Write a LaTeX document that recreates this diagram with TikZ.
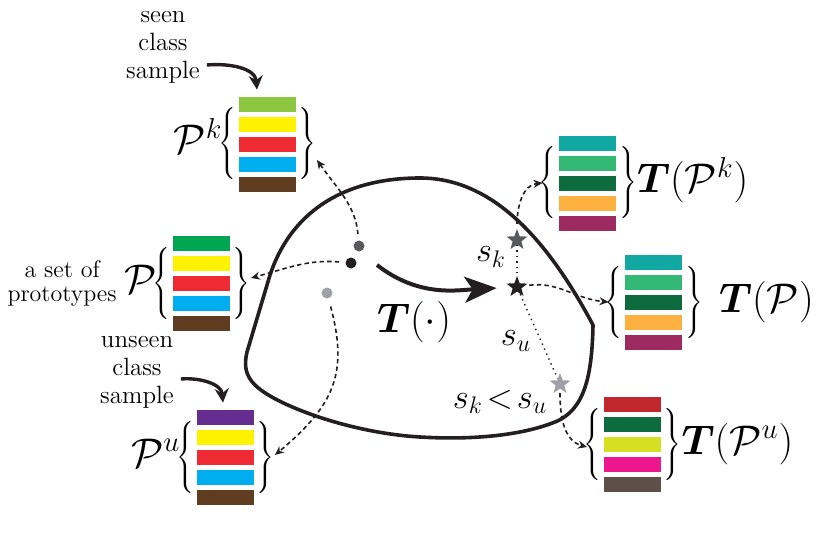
\documentclass[tikz,border=0pt]{standalone}
\usepackage{amsmath}
\usepackage{bm}
\usetikzlibrary{positioning,shapes.geometric,arrows.meta}

\definecolor{ink}{HTML}{231F20}
\definecolor{gdark}{HTML}{58595B}
\definecolor{glight}{HTML}{A0A1A4}
\definecolor{pklime}{HTML}{8DC63F}
\definecolor{pgreen}{HTML}{00A651}
\definecolor{ppurple}{HTML}{662D91}
\definecolor{pyellow}{HTML}{FFF200}
\definecolor{pred}{HTML}{EE2A32}
\definecolor{pcyan}{HTML}{00AEEF}
\definecolor{pbrown}{HTML}{603D20}
\definecolor{tteal}{HTML}{10A8A0}
\definecolor{tgreen}{HTML}{33B876}
\definecolor{tdark}{HTML}{0E6B3E}
\definecolor{torange}{HTML}{FBB040}
\definecolor{tplum}{HTML}{9E2A62}
\definecolor{ured}{HTML}{C1272D}
\definecolor{uolive}{HTML}{D7DF23}
\definecolor{upink}{HTML}{EC178C}
\definecolor{ugray}{HTML}{5E5048}

\begin{document}
\begin{tikzpicture}[x=0.5pt, y=-0.5pt, line join=round,
        bar/.style={rectangle, inner sep=0pt, minimum width=29pt, minimum height=8pt,
                draw=white, line width=0.4pt},
        brc/.style={inner sep=0pt, font=\huge},
        lbl/.style={align=center, font=\fontsize{12.5}{14}\selectfont},
        emb/.style={circle, inner sep=0pt, minimum size=5.5pt},
        tstar/.style={star, star points=5, star point ratio=2.4, inner sep=0pt, minimum size=11pt},
        link/.style={ink, line width=0.8pt, dash pattern=on 2.2pt off 1.6pt,
                -{Stealth[length=4.5pt, width=4pt]}},
        sim/.style={ink, line width=0.7pt, dotted},
        callout/.style={ink, line width=1.7pt, -{Stealth[length=7pt, width=7pt]}},
        maparr/.style={ink, line width=2pt, -{Stealth[length=16pt, width=13pt, inset=4pt]}}]
        \def\bars(#1,#2,#3)#4{\foreach \c [count=\i] in {#4}
                \node[bar, fill=\c] (#1\i) at (#2, #3+20*\i-20) {};}
        \def\lbrc{\kern-2pt\raisebox{2.5pt}{\normalsize\nulldelimiterspace=0pt$\left\{\vcenter{\hbox{\rule{0pt}{38pt}}}\right.$}\kern-0.5pt}
        \def\rbrc{\raisebox{2.5pt}{\normalsize\nulldelimiterspace=0pt$\left.\vcenter{\hbox{\rule{0pt}{38pt}}}\right\}$}}

        \useasboundingbox (0,0) rectangle (829,534);

        % feature space
        \draw[ink, line width=1.8pt] (247,352) -- (270,275)
              .. controls (290,215) and (340,178) .. (420,178)
              .. controls (490,178) and (545,235) .. (593,325)
              .. controls (592,375) and (585,410) .. (555,422)
              .. controls (520,436) and (470,440) .. (420,437)
              .. controls (350,433) and (275,405) .. (255,385)
              .. controls (245,375) and (244,365) .. (247,352) -- cycle;

        % prototype sets
        \bars(pk,267,104){pklime,pyellow,pred,pcyan,pbrown}
        \bars(p,201,243){pgreen,pyellow,pred,pcyan,pbrown}
        \bars(pu,225,417){ppurple,pyellow,pred,pcyan,pbrown}
        \bars(tpk,587.5,143){tteal,tgreen,tdark,torange,tplum}
        \bars(tp,653.5,262){tteal,tgreen,tdark,torange,tplum}
        \bars(tpu,632,404){ured,tdark,uolive,upink,ugray}

        \node[brc, left=1pt of pk3] (pkl) {$\mathcal{P}^k$\lbrc};
        \node[brc, right=1pt of pk3] (pkr) {\rbrc};
        \node[brc, left=1pt of p3] (pl) {$\mathcal{P}$\lbrc};
        \node[brc, right=1pt of p3] (pr) {\rbrc};
        \node[brc, left=1pt of pu3] (pul) {$\mathcal{P}^u$\lbrc};
        \node[brc, right=1pt of pu3] (pur) {\rbrc};
        \node[brc, left=1pt of tpk3] (tpkl) {\lbrc};
        \node[brc, right=1pt of tpk3] (tpkr) {\rbrc$\bm{T}(\mathcal{P}^k)$};
        \node[brc, left=1pt of tp3] (tpl) {\lbrc};
        \node[brc, right=1pt of tp3] (tpr) {\rbrc\hspace{8pt}$\bm{T}(\mathcal{P})$};
        \node[brc, left=1pt of tpu3] (tpul) {\lbrc};
        \node[brc, right=1pt of tpu3] (tpur) {\rbrc$\bm{T}(\mathcal{P}^u)$};

        \node[lbl] (seen) at (163,47) {seen\\class\\sample};
        \node[lbl, left=0pt of pl, font=\fontsize{12}{12}\selectfont] (protos) {a set of\\prototypes};
        \node[lbl] (unseen) at (137,372) {unseen\\class\\sample};

        % embedded samples and their images
        \node[emb, fill=gdark] (dk) at (359,246) {};
        \node[emb, fill=ink] (dm) at (351,263) {};
        \node[emb, fill=glight] (dl) at (327,293) {};
        \node[tstar, fill=gdark] (sk) at (517,240) {};
        \node[tstar, fill=ink] (sm) at (517,287) {};
        \node[tstar, fill=glight] (su) at (560,384) {};

        \node[font=\LARGE] (lk) at (491,257) {$s_k$};
        \node[font=\LARGE] (lu) at (516,341) {$s_u$};
        \node[font=\LARGE] (lku) at (500,402) {$s_k\!<\!s_u$};
        \node[font=\huge] (map) at (414,322) {$\bm{T}(\cdot)$};

        \coordinate (tin) at (377,265);
        \draw[maparr, shorten >=7pt] (tin) to[out=-38, in=183] (sm);

        \draw[callout] ([yshift=-9pt]seen.east) to[out=5, in=95] ([xshift=-5pt, yshift=3pt]pk1.north);
        \draw[callout] ([yshift=-3.5pt]unseen.east) to[out=5, in=95] ([xshift=-1pt, yshift=3pt]pu1.north);

        \draw[link, shorten <=3pt] (dk) to[out=95, in=-55] ([yshift=-8pt]pkr.east);
        \draw[link, shorten <=3pt] (dm) to[out=175, in=15] ([yshift=2.5pt]pr.east);
        \draw[link, shorten <=4pt] (dl) to[out=-75, in=40, looseness=1.2] ([yshift=1pt]pur.east);
        \draw[link, shorten <=2pt] (sk) to[out=90, in=185] (tpkl.west);
        \draw[link, shorten <=2pt] (sm) to[out=8, in=175] (tpl.west);
        \draw[link, shorten <=2pt] (su) to[out=-90, in=165] ([yshift=-1.5pt]tpul.west);

        \draw[sim] (sk) -- (sm);
        \draw[sim] (sm) -- (su);
\end{tikzpicture}
\end{document}
